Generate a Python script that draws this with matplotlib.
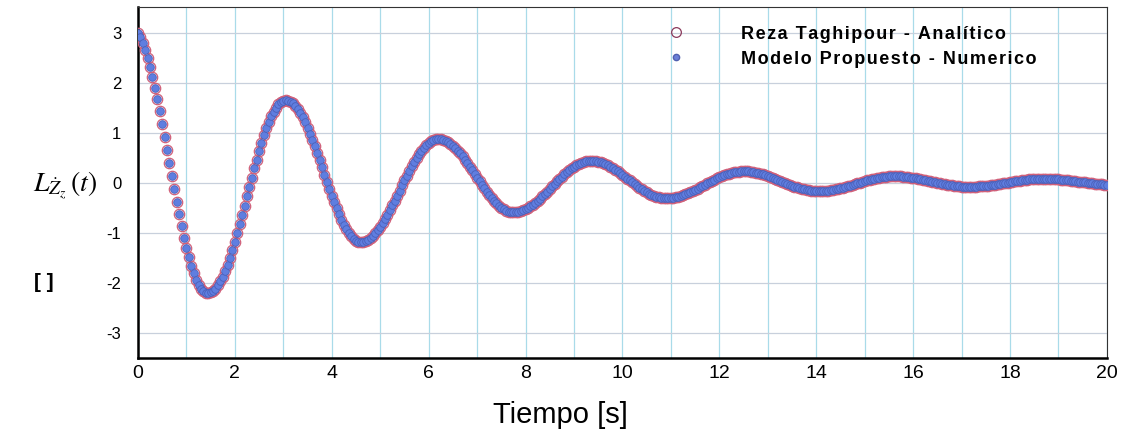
import numpy as np
import matplotlib
matplotlib.use('Agg')
import matplotlib.pyplot as plt
from matplotlib.ticker import MultipleLocator
from matplotlib.lines import Line2D

plt.rcParams['font.family'] = ['Liberation Sans', 'DejaVu Sans']
plt.rcParams['mathtext.fontset'] = 'stix'
plt.rcParams['axes.unicode_minus'] = False

# values, one every 0.05 s from 0 to 20 s
t_inicio, t_fin = 0.0, 20.0
analitico = [
    3.00, 2.91, 2.79, 2.66, 2.50, 2.32, 2.12, 1.90, 1.67, 1.43,
    1.18, 0.92, 0.66, 0.40, 0.13, -0.13, -0.38, -0.63, -0.86, -1.09,
    -1.29, -1.48, -1.65, -1.80, -1.93, -2.03, -2.11, -2.16, -2.19, -2.19,
    -2.18, -2.15, -2.11, -2.04, -1.96, -1.87, -1.75, -1.63, -1.49, -1.34,
    -1.18, -1.00, -0.83, -0.64, -0.46, -0.27, -0.08, 0.10, 0.29, 0.46,
    0.64, 0.80, 0.95, 1.09, 1.21, 1.33, 1.42, 1.50, 1.57, 1.61,
    1.64, 1.65, 1.64, 1.62, 1.59, 1.54, 1.47, 1.40, 1.31, 1.21,
    1.10, 0.98, 0.86, 0.73, 0.59, 0.45, 0.31, 0.16, 0.02, -0.12,
    -0.26, -0.39, -0.51, -0.63, -0.74, -0.84, -0.93, -1.00, -1.07, -1.12,
    -1.15, -1.17, -1.18, -1.18, -1.16, -1.14, -1.10, -1.06, -1.01, -0.95,
    -0.88, -0.81, -0.72, -0.64, -0.55, -0.45, -0.36, -0.26, -0.16, -0.05,
    0.05, 0.14, 0.24, 0.33, 0.41, 0.50, 0.57, 0.64, 0.70, 0.75,
    0.79, 0.83, 0.85, 0.87, 0.87, 0.87, 0.86, 0.84, 0.81, 0.78,
    0.74, 0.69, 0.64, 0.59, 0.53, 0.46, 0.39, 0.32, 0.25, 0.18,
    0.10, 0.03, -0.04, -0.11, -0.18, -0.25, -0.31, -0.36, -0.41, -0.46,
    -0.50, -0.53, -0.56, -0.58, -0.59, -0.59, -0.59, -0.58, -0.57, -0.55,
    -0.53, -0.50, -0.47, -0.44, -0.40, -0.36, -0.32, -0.27, -0.22, -0.18,
    -0.13, -0.07, -0.02, 0.03, 0.07, 0.12, 0.17, 0.21, 0.25, 0.29,
    0.32, 0.35, 0.38, 0.40, 0.42, 0.43, 0.44, 0.44, 0.44, 0.43,
    0.42, 0.41, 0.39, 0.37, 0.35, 0.32, 0.29, 0.26, 0.23, 0.20,
    0.16, 0.12, 0.08, 0.05, 0.01, -0.03, -0.07, -0.10, -0.13, -0.16,
    -0.19, -0.22, -0.24, -0.26, -0.28, -0.29, -0.30, -0.31, -0.31, -0.31,
    -0.30, -0.30, -0.29, -0.28, -0.26, -0.25, -0.23, -0.21, -0.19, -0.17,
    -0.14, -0.12, -0.09, -0.07, -0.04, -0.01, 0.01, 0.04, 0.06, 0.09,
    0.11, 0.13, 0.15, 0.17, 0.18, 0.20, 0.21, 0.22, 0.22, 0.23,
    0.23, 0.23, 0.23, 0.22, 0.21, 0.20, 0.19, 0.18, 0.17, 0.15,
    0.14, 0.12, 0.10, 0.08, 0.06, 0.04, 0.02, 0.00, -0.02, -0.04,
    -0.06, -0.08, -0.09, -0.11, -0.12, -0.13, -0.14, -0.15, -0.16, -0.17,
    -0.17, -0.17, -0.17, -0.17, -0.16, -0.16, -0.15, -0.14, -0.13, -0.12,
    -0.11, -0.10, -0.09, -0.07, -0.06, -0.04, -0.03, -0.01, 0.00, 0.02,
    0.03, 0.05, 0.06, 0.07, 0.08, 0.09, 0.10, 0.11, 0.12, 0.12,
    0.13, 0.13, 0.13, 0.13, 0.13, 0.13, 0.12, 0.12, 0.11, 0.10,
    0.10, 0.09, 0.08, 0.07, 0.06, 0.05, 0.04, 0.03, 0.02, 0.01,
    0.00, -0.01, -0.02, -0.03, -0.04, -0.05, -0.05, -0.06, -0.07, -0.07,
    -0.08, -0.08, -0.08, -0.08, -0.08, -0.08, -0.08, -0.07, -0.07, -0.07,
    -0.06, -0.06, -0.05, -0.04, -0.04, -0.03, -0.02, -0.01, 0.00, 0.00,
    0.01, 0.02, 0.03, 0.04, 0.04, 0.05, 0.06, 0.06, 0.07, 0.07,
    0.07, 0.08, 0.08, 0.08, 0.08, 0.08, 0.08, 0.08, 0.07, 0.07,
    0.07, 0.06, 0.06, 0.05, 0.05, 0.04, 0.04, 0.03, 0.02, 0.02,
    0.01, 0.01, 0.00, -0.01, -0.01, -0.02, -0.02, -0.03, -0.03, -0.04,
    -0.04,
]
# the numerical model lies on top of the analytical curve in the figure
numerico = list(analitico)
t = np.linspace(t_inicio, t_fin, len(analitico))

etiquetas = ['Reza Taghipour - Analítico', 'Modelo Propuesto - Numerico']

fig = plt.figure(figsize=(11.28, 4.34), dpi=100)
ax = fig.add_axes([0.1223, 0.1751, 0.8590, 0.8088])

ax.plot(t, analitico, ls='none', marker='o', ms=7.5, mfc='none',
        mec='#d0607a', mew=0.9, zorder=3)
ax.plot(t, numerico, ls='none', marker='o', ms=5.5, mfc='#5f7ee0',
        mec='#4a5fb8', mew=0.6, zorder=4)

ax.set_xlim(0, 20)
ax.set_ylim(-3.5, 3.52)
ax.set_xticks(range(0, 21, 2))
ax.xaxis.set_minor_locator(MultipleLocator(1))
ax.set_yticks(range(-3, 4))
ax.set_axisbelow(True)
ax.grid(which='both', axis='x', color='#a9dbe9', lw=0.9)
ax.grid(which='major', axis='y', color='#c8d0dc', lw=0.9)
ax.tick_params(which='both', length=0)
ax.tick_params(axis='x', labelsize=14, pad=5)
ax.tick_params(axis='y', labelsize=12, pad=12)

for lado in ['left', 'bottom']:
    ax.spines[lado].set_linewidth(1.8)
    ax.spines[lado].set_color('black')
for lado in ['top', 'right']:
    ax.spines[lado].set_linewidth(0.8)
    ax.spines[lado].set_color('#333333')

# the legend text in the original is letter-spaced
def espaciado(s):
    return '\u200a'.join(s)

h1 = Line2D([], [], ls='none', marker='o', ms=7, mfc='none', mec='#8b3a5c', mew=0.9)
h2 = Line2D([], [], ls='none', marker='o', ms=4.5, mfc='#6a80d8', mec='#5060b0')
ax.legend([h1, h2], [espaciado(e) for e in etiquetas], loc='upper left',
          bbox_to_anchor=(0.546, 0.947), frameon=False, borderpad=0,
          borderaxespad=0, handlelength=1, handletextpad=3.1, labelspacing=0.45,
          prop={'weight': 'bold', 'size': 13})

fig.text(0.497, 0.044, 'Tiempo [s]', ha='center', va='center', fontsize=21)
fig.text(0.058, 0.574, r'$L_{\dot{Z}_z}\,(t)$', ha='center', va='center', fontsize=20)
fig.text(0.039, 0.348, '[ ]', ha='center', va='center', fontsize=15, weight='bold')

fig.savefig('out.png', dpi=100)
